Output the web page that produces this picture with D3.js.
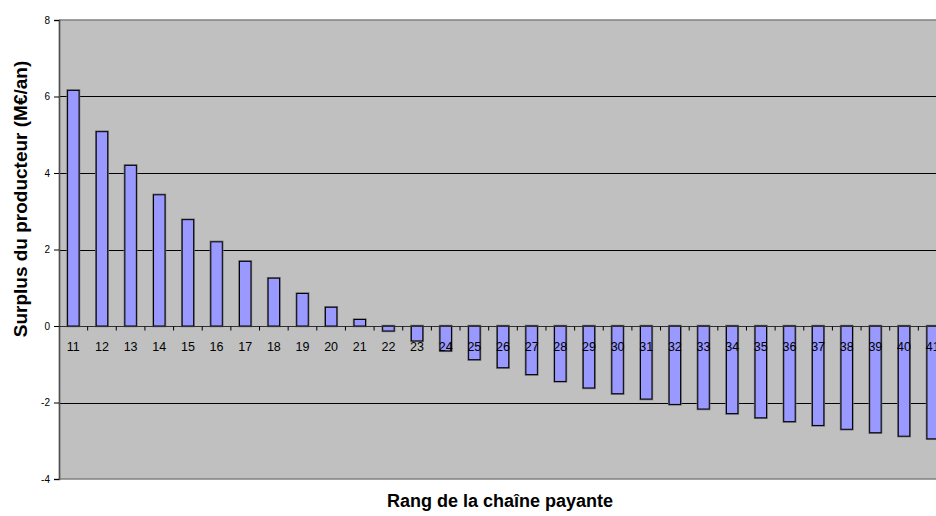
<!DOCTYPE html>
<html>
<head>
<meta charset="utf-8">
<script src="https://cdn.jsdelivr.net/npm/d3@7"></script>
<style>
  html, body { margin: 0; padding: 0; background: #fff; overflow: hidden; }
  svg { display: block; }
  text { font-family: "Liberation Sans", Arial, sans-serif; fill: #000; }
</style>
</head>
<body>
<svg id="chart" width="936" height="516"></svg>
<script>
// Rank of the pay channel (categories)
const ranks = [11,12,13,14,15,16,17,18,19,20,21,22,23,24,25,26,27,28,29,30,31,32,33,34,35,36,37,38,39,40,41];
// Producer surplus, M€/year
const surplus = [6.16,5.08,4.20,3.43,2.78,2.20,1.69,1.25,0.85,0.49,0.17,-0.13,-0.39,-0.65,-0.88,-1.09,-1.27,-1.45,-1.62,-1.77,-1.91,-2.05,-2.17,-2.29,-2.40,-2.50,-2.60,-2.70,-2.79,-2.88,-2.95];
const yTicks = [-4,-2,0,2,4,6,8];
const gridValues = [-2,2,4,6];

const svg = d3.select("#chart");
const plotLeft = 59, plotRight = 947, plotTop = 20, plotBottom = 479;

const x = d3.scaleBand()
  .domain(ranks)
  .range([plotLeft, plotRight])
  .paddingInner(0.6)
  .paddingOuter(0.3);

const y = d3.scaleLinear().domain([-4, 8]).range([plotBottom, plotTop]);

// plot background
svg.append("rect")
  .attr("x", plotLeft).attr("y", plotTop)
  .attr("width", plotRight - plotLeft).attr("height", plotBottom - plotTop)
  .attr("fill", "#c0c0c0");

// horizontal gridlines
svg.append("g").selectAll("line").data(gridValues).join("line")
  .attr("x1", plotLeft).attr("x2", plotRight)
  .attr("y1", d => Math.round(y(d)) + 0.5).attr("y2", d => Math.round(y(d)) + 0.5)
  .attr("stroke", "#000").attr("stroke-width", 1);

// plot border top / bottom
svg.append("line").attr("x1", plotLeft).attr("x2", plotRight)
  .attr("y1", plotTop).attr("y2", plotTop).attr("stroke", "#808080").attr("stroke-width", 1.5);
svg.append("line").attr("x1", plotLeft).attr("x2", plotRight)
  .attr("y1", plotBottom).attr("y2", plotBottom).attr("stroke", "#808080").attr("stroke-width", 1.5);

// bars
const bars = svg.append("g");
const barY = d => Math.min(y(0), y(d));
const barH = d => Math.abs(y(d) - y(0));
bars.selectAll("rect.halo").data(ranks).join("rect")
  .attr("class", "halo")
  .attr("x", r => x(r)).attr("width", x.bandwidth())
  .attr("y", (r, i) => barY(surplus[i])).attr("height", (r, i) => barH(surplus[i]))
  .attr("fill", "none").attr("stroke", "#707070").attr("stroke-width", 2.4);
bars.selectAll("rect.bar").data(ranks).join("rect")
  .attr("class", "bar")
  .attr("x", r => x(r)).attr("width", x.bandwidth())
  .attr("y", (r, i) => barY(surplus[i])).attr("height", (r, i) => barH(surplus[i]))
  .attr("fill", "#9999ff").attr("stroke", "#000").attr("stroke-width", 1);

// y axis (plain hyphen for negatives)
const yAxis = d3.axisLeft(y).tickValues(yTicks).tickSize(5).tickPadding(4).tickFormat(d => String(d));
const gy = svg.append("g").attr("transform", `translate(${plotLeft},0)`).call(yAxis);
gy.select(".domain").attr("stroke", "#505050").attr("stroke-width", 1.7);
gy.selectAll(".tick line").attr("stroke", "#000");
gy.selectAll(".tick text")
  .attr("font-family", "Liberation Sans, Arial, sans-serif")
  .attr("font-size", 10).attr("fill", "#000");

// x axis along zero line: ticks between categories
const y0 = Math.round(y(0)) + 0.5;
const gx = svg.append("g");
gx.append("line").attr("x1", plotLeft).attr("x2", plotRight)
  .attr("y1", y0).attr("y2", y0).attr("stroke", "#303030").attr("stroke-width", 1);
gx.selectAll("line.tk").data(ranks.slice(1)).join("line")
  .attr("class", "tk")
  .attr("x1", r => x(r) - x.bandwidth() * 0.75).attr("x2", r => x(r) - x.bandwidth() * 0.75)
  .attr("y1", y0).attr("y2", y0 + 4)
  .attr("stroke", "#000");
gx.selectAll("text").data(ranks).join("text")
  .attr("x", r => x(r) + x.bandwidth() / 2)
  .attr("y", y0 + 24.5)
  .attr("text-anchor", "middle")
  .attr("font-size", 12.5)
  .text(r => r);

// axis titles
svg.append("text")
  .attr("transform", "translate(27,199) rotate(-90)")
  .attr("text-anchor", "middle")
  .attr("font-size", 19).attr("font-weight", "bold")
  .text("Surplus du producteur (M€/an)");
svg.append("text")
  .attr("x", 500).attr("y", 507)
  .attr("text-anchor", "middle")
  .attr("font-size", 18).attr("font-weight", "bold")
  .text("Rang de la chaîne payante");
</script>
</body>
</html>
